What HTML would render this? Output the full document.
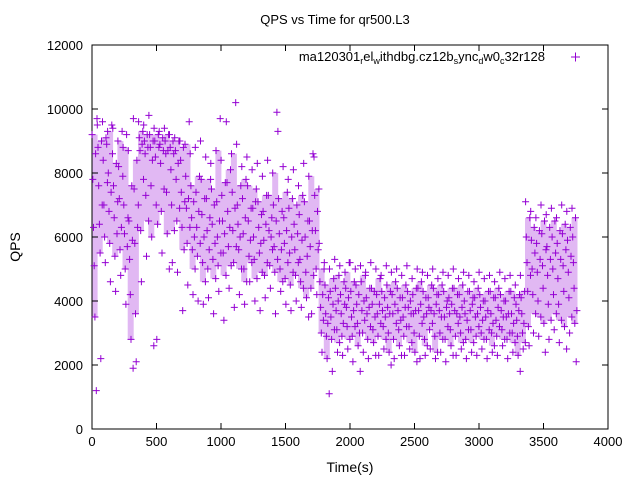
<!DOCTYPE html>
<html><head><meta charset="utf-8"><style>
body{margin:0;background:#fff;}
svg{display:block;font-family:"Liberation Sans",sans-serif;}
</style></head><body>
<svg id="chart" width="640" height="480">
<rect width="640" height="480" fill="#fff"/>
<text x="335" y="24" font-size="13" text-anchor="middle">QPS vs Time for qr500.L3</text>
<text x="20" y="247" font-size="14" text-anchor="middle" transform="rotate(-90 20 247)">QPS</text>
<text x="350" y="472" font-size="14" text-anchor="middle">Time(s)</text>
<g id="bands"></g>
<g id="axes"></g>
<g id="marks"></g>
<text x="545" y="61" font-size="13" text-anchor="end">ma120301<tspan font-size="9" dy="3">r</tspan><tspan dy="-3">el</tspan><tspan font-size="9" dy="3">w</tspan><tspan dy="-3">ithdbg.cz12b</tspan><tspan font-size="9" dy="3">s</tspan><tspan dy="-3">ync</tspan><tspan font-size="9" dy="3">d</tspan><tspan dy="-3">w0</tspan><tspan font-size="9" dy="3">c</tspan><tspan dy="-3">32r128</tspan></text>
<path d="M571 57h9M575.5 52.5v9" stroke="#9400d3" stroke-width="1"/>
</svg>
<script>
const xTicks=[0,500,1000,1500,2000,2500,3000,3500,4000];
const yTicks=[0,2000,4000,6000,8000,10000,12000];
const times=[20,60,100,140,180,220,260,300,340,380,420,460,500,540,580,620,660,700,740,780,820,860,900,940,980,1020,1060,1100,1140,1180,1220,1260,1300,1340,1380,1420,1460,1500,1540,1580,1620,1660,1700,1740,1780,1820,1860,1900,1940,1980,2020,2060,2100,2140,2180,2220,2260,2300,2340,2380,2420,2460,2500,2540,2580,2620,2660,2700,2740,2780,2820,2860,2900,2940,2980,3020,3060,3100,3140,3180,3220,3260,3300,3340,3380,3420,3460,3500,3540,3580,3620,3660,3700,3740];
const qps=[
[9200,7800,6300,5100,3500,8600,1200,9700],[9500,8800,7600,6400,5500,2200,9000,7000],[9600,8400,7000,6000,5200,9100,8900,7700],[9300,8000,6800,5800,4600,7400,9500,8600],
[9400,7600,6600,5400,4300,8300,6100,7100],[9000,8200,7200,5600,4800,6300,9300,7900],[8800,7000,6100,5000,3900,9200,5700,6600],[8700,6500,5300,4200,2800,7600,5900,1900],
[9700,7500,5800,3600,2100,8400,6300,7000],[9600,9100,8700,6200,4600,8900,9300,7800],[9500,9000,8600,7300,5400,9200,8800,6500],[9800,9200,8800,7600,6000,8400,9000,2600],
[9400,9000,8500,7000,2800,6400,9200,8800],[9300,8900,8300,6800,5500,9100,8700,7500],[9400,9000,8600,7400,6100,8700,9200,5000],[9200,8800,8100,7000,5200,9000,8600,6200],
[9100,8700,7800,6500,4900,8300,9000,6900],[9000,8400,7400,6300,3700,8800,5600,7100],[8900,7900,6900,5800,4500,7200,9600,6300],[8600,7600,6600,5600,4200,7100,6000,5000],
[8800,7400,6300,5400,4000,6800,7900,5800],[9000,7800,6700,5200,3900,6000,7200,4600],[8500,7200,6200,5000,4100,5600,6600,7800],[8300,7500,6400,5300,3600,7000,5800,4700],
[8700,7100,6000,5100,4300,6500,9700,5500],[8400,7300,6500,5500,3400,6100,7700,4800],[9600,7700,6800,5700,4400,6300,8100,5100],[8600,7400,6200,5200,3800,6900,10200,5700],
[8900,7000,6400,5600,4200,6000,7600,5000],[8200,7200,6100,5000,3900,6600,7800,4600],[8500,7600,6500,5400,4600,5900,6900,5200],[8100,6900,6000,5300,4000,7100,7500,4700],
[8300,7100,6300,5500,3700,5800,6700,4900],[7900,6800,5900,4800,4100,6400,7300,5200],[8400,7300,6200,5100,4400,6000,6600,5600],[8000,7000,5700,4900,3600,6500,9900,5300],
[9300,7200,6100,5000,4300,5600,6800,4600],[8200,6600,5800,4700,3900,6200,7400,5200],[7800,6900,5500,4500,3700,6000,7200,4900],[8100,6400,5600,4800,4000,7000,6100,5200],
[7600,6700,5300,4600,3800,5900,7300,4400],[8300,7100,6000,4900,4100,5400,6500,3500],[7900,6500,5700,4400,3600,6200,8600,4800],[8500,7300,6200,5000,4200,6800,5600,7500],
[5800,4600,3800,3000,2400,4200,3400,5000],[5200,4500,3600,2900,2200,3300,4100,1100],[5000,4300,3500,2800,1800,3900,4700,3100],[5300,4400,3700,3100,2400,4000,4800,2700],
[5100,4200,3600,2900,2300,3300,4600,3900],[4900,4400,3800,3200,2500,4100,5200,2800],[5200,4300,3500,2900,2100,3700,4600,3200],[5000,4500,3900,3300,2600,4200,3000,1800],
[5100,4600,3700,3000,2400,4000,3400,4800],[4900,4100,3600,2800,2200,3800,4400,3200],[5200,4400,3900,3100,2700,4300,3500,2300],[5000,4200,3600,2900,2300,3900,4700,3300],
[4800,4300,3700,3200,2500,4100,3500,2800],[5100,4500,3800,3000,2400,3600,4300,2000],[4900,4200,3600,2800,2200,3900,4600,3300],[5000,4400,3700,3100,2600,4100,3400,2300],
[4800,4100,3500,2900,2300,3800,4500,3200],[5100,4300,3800,3200,2500,4000,3600,2700],[4700,4200,3600,3000,2400,3700,4400,2100],[5000,4400,3700,2900,2200,3900,4600,3300],
[4900,4300,3500,2800,2300,4100,3600,2600],[4800,4100,3800,3100,2500,3700,4500,3300],[5000,4400,3600,2900,2200,3900,4200,2400],[4700,4200,3700,3000,2400,3500,4500,2800],
[4900,4300,3500,2800,2100,3800,4000,3200],[4800,4100,3600,3100,2600,3900,4400,2300],[5000,4400,3700,2900,2300,3600,4200,3300],[4700,4200,3500,3000,2500,3800,4500,2700],
[4900,4000,3600,2800,2200,3400,4300,3100],[4800,4300,3700,3100,2400,3900,4100,2700],[4600,4100,3500,2900,2300,3600,4400,3200],[4900,4200,3800,3000,2500,3400,4000,2800],
[4700,4000,3500,2800,2200,3700,4300,3100],[4800,4300,3600,3000,2400,3300,4100,2600],[4600,4100,3400,2900,2300,3800,4400,3200],[4900,4200,3700,3100,2600,3500,4000,2800],
[4700,4000,3500,2800,2200,3600,4300,3000],[4800,4300,3600,3000,2400,3300,4100,2700],[4500,3900,3400,2900,2300,3700,4200,1800],[4800,4100,3600,3000,2500,3300,4300,2700],
[7100,6000,5200,4300,3200,2600,6600,4800],[6800,5900,5000,4200,3000,6300,5500,3600],[6600,5800,4900,4000,2900,6200,5300,3500],[7000,6100,5100,4400,3300,6500,2400,5600],
[6700,5700,4800,3900,2800,6300,5300,3400],[6900,6000,5000,4200,3100,6500,5500,3600],[6600,5800,4700,3900,2700,6200,5300,3400],[7000,6100,5100,4300,3200,6400,5600,2500],
[6800,5900,4900,4100,3000,6300,5400,3500],[6900,6000,5200,4400,3300,6600,2100,3700],[7000,6200,5300,4500,3400,6600,1400,5800],[7100,6500,5000,4000,2900,800,5600,3500]
];
const X0=92,X1=608,Y0=429,Y1=45;
const xs=v=>X0+(v-0)/(4000-0)*(X1-X0);
const ys=v=>Y0-(v-0)/(12000-0)*(Y0-Y1);
const NS="http://www.w3.org/2000/svg";
const axes=document.getElementById('axes');
const marks=document.getElementById('marks');
const bands=document.getElementById('bands');
// density band: middle range of each bin (derived from data)
let bd='';
times.forEach((t,i)=>{
  const s=qps[i].slice().sort((a,b)=>a-b);
  const lo=s[1],hi=s[s.length-2];
  bd+=`M${(xs(t)-3).toFixed(1)} ${ys(hi).toFixed(1)}H${(xs(t)+3).toFixed(1)}V${ys(lo).toFixed(1)}H${(xs(t)-3).toFixed(1)}Z`;
});
const band=document.createElementNS(NS,'path');
band.setAttribute('d',bd);band.setAttribute('fill','#9400d3');band.setAttribute('fill-opacity','0.28');


bands.appendChild(band);
const frame=document.createElementNS(NS,'rect');
frame.setAttribute('x',X0);frame.setAttribute('y',Y1);frame.setAttribute('width',X1-X0);frame.setAttribute('height',Y0-Y1);
frame.setAttribute('fill','none');frame.setAttribute('stroke','#000');


axes.appendChild(frame);
xTicks.forEach(t=>{
  const x=xs(t);
  const p=document.createElementNS(NS,'path');
  p.setAttribute('d',`M${x} ${Y0}v-6M${x} ${Y1}v6`);p.setAttribute('stroke','#000');
  
  
  axes.appendChild(p);
  const l=document.createElementNS(NS,'text');
  l.setAttribute('x',x);l.setAttribute('y',Y0+17);l.setAttribute('font-size','13');l.setAttribute('text-anchor','middle');
  l.textContent=t;
  
  
  axes.appendChild(l);
});
yTicks.forEach(t=>{
  const y=ys(t);
  const p=document.createElementNS(NS,'path');
  p.setAttribute('d',`M${X0} ${y}h6M${X1} ${y}h-6`);p.setAttribute('stroke','#000');
  
  
  axes.appendChild(p);
  const l=document.createElementNS(NS,'text');
  l.setAttribute('x',X0-9);l.setAttribute('y',y+5);l.setAttribute('font-size','13');l.setAttribute('text-anchor','end');
  l.textContent=t;
  
  
  axes.appendChild(l);
});
let d='';
times.forEach((t,i)=>{
  qps[i].forEach((v,j)=>{
    const x=xs(t)+(j-3.5)*0.7, y=ys(v);
    d+=`M${(x-3.5).toFixed(1)} ${y.toFixed(1)}h7M${x.toFixed(1)} ${(y-3.5).toFixed(1)}v7`;
  });
});
const pts=document.createElementNS(NS,'path');
pts.setAttribute('d',d);pts.setAttribute('stroke','#9400d3');pts.setAttribute('stroke-width','1');pts.setAttribute('fill','none');


marks.appendChild(pts);
</script>
</body></html>
